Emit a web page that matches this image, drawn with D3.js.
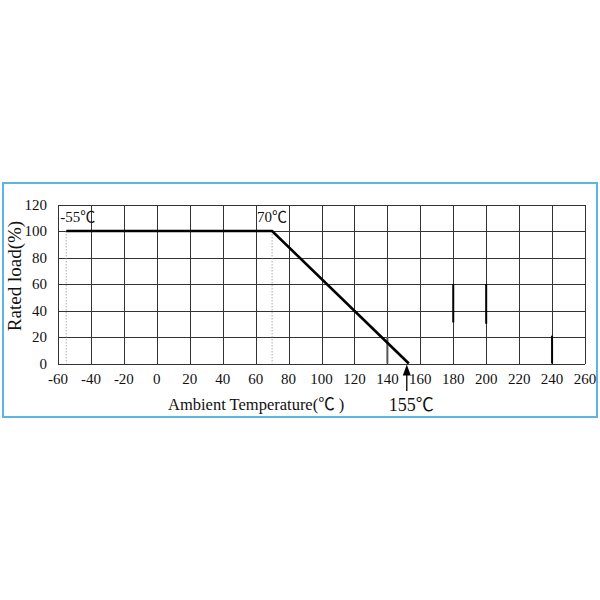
<!DOCTYPE html>
<html>
<head>
<meta charset="utf-8">
<script src="https://cdn.jsdelivr.net/npm/d3@7"></script>
<style>
  body { margin: 0; background: #fff; }
  svg text { font-family: "Liberation Serif", "Noto Sans CJK SC", serif; fill: #111; }
  .grid line { stroke: #333; stroke-width: 1; shape-rendering: crispEdges; }
</style>
</head>
<body>
<svg id="chart" width="600" height="600"></svg>
<script>
// derating curve: temperature (C) vs rated load (%)
var curveTemp = [-55, 70, 153]
var curveLoad = [100, 100, 0]

var xTicks = [-60, -40, -20, 0, 20, 40, 60, 80, 100, 120, 140, 160, 180, 200, 220, 240, 260]
var yTicks = [0, 20, 40, 60, 80, 100, 120]

// stray short strokes visible in the scan
var strokeTemp = [140, 180, 200, 240]
var strokeFrom = [0, 31, 30, 0]
var strokeTo   = [20, 60, 60, 21]

var noteTemps = [-55, 70]
var noteLabels = ["-55℃", "70℃"]

var svg = d3.select("#chart")

// light blue frame
svg.append("rect")
	.attr("x", 3).attr("y", 183)
	.attr("width", 594).attr("height", 234)
	.attr("fill", "none")
	.attr("stroke", "#5bb6e4")
	.attr("stroke-width", 2)

var x = d3.scaleLinear().domain([-60, 260]).range([58, 585])
var y = d3.scaleLinear().domain([0, 120]).range([363.5, 204.5])

var g = svg.append("g").attr("class", "grid")

g.selectAll(".vl").data(xTicks).enter().append("line")
	.attr("x1", d => Math.round(x(d)) + 0.5).attr("x2", d => Math.round(x(d)) + 0.5)
	.attr("y1", y(0)).attr("y2", y(120))

g.selectAll(".hl").data(yTicks).enter().append("line")
	.attr("y1", d => Math.round(y(d)) + 0.5).attr("y2", d => Math.round(y(d)) + 0.5)
	.attr("x1", x(-60)).attr("x2", x(260))

// tick labels
svg.selectAll(".xt").data(xTicks).enter().append("text")
	.attr("x", d => x(d))
	.attr("y", 384)
	.attr("text-anchor", "middle")
	.style("font-size", "15px")
	.text(d => d)

svg.selectAll(".yt").data(yTicks).enter().append("text")
	.attr("x", 47)
	.attr("y", d => y(d) + 5)
	.attr("text-anchor", "end")
	.style("font-size", "15px")
	.text(d => d)

// dotted guides at the corners of the curve
svg.selectAll(".guide").data(noteTemps).enter().append("line")
	.attr("x1", d => x(d)).attr("x2", d => x(d))
	.attr("y1", y(100)).attr("y2", y(0))
	.attr("stroke", "#999")
	.attr("stroke-width", 0.8)
	.attr("stroke-dasharray", "1.5,1.5")

svg.selectAll(".stroke").data(strokeTemp).enter().append("line")
	.attr("x1", d => x(d)).attr("x2", d => x(d))
	.attr("y1", (d, i) => y(strokeFrom[i])).attr("y2", (d, i) => y(strokeTo[i]))
	.attr("stroke", (d, i) => i == 0 ? "#555" : "#000")
	.attr("stroke-width", 2)

// the curve
var line = d3.line()
	.x(function(d, i) { return x(curveTemp[i]) })
	.y(function(d, i) { return y(curveLoad[i]) })

svg.append("path")
	.attr("d", line(curveTemp))
	.attr("fill", "none")
	.attr("stroke", "#000")
	.attr("stroke-width", 2.6)

svg.selectAll(".note").data(noteTemps).enter().append("text")
	.attr("x", (d, i) => i == 0 ? x(d) - 6 : x(d) - 15)
	.attr("y", 222)
	.style("font-size", "15px")
	.text((d, i) => noteLabels[i])

// arrow pointing at the end of the curve
var endX = x(curveTemp[2]) - 2
svg.append("line")
	.attr("x1", endX).attr("x2", endX)
	.attr("y1", 391).attr("y2", y(0) + 8)
	.attr("stroke", "#000").attr("stroke-width", 1.3)
svg.append("path")
	.attr("d", d3.line()([[endX - 4, y(0) + 12], [endX, y(0) + 1], [endX + 4, y(0) + 12]]) + "Z")
	.attr("fill", "#000")

svg.append("text")
	.attr("x", endX - 18)
	.attr("y", 411)
	.style("font-size", "18px")
	.text("155℃")

// axis titles
svg.append("text")
	.attr("x", 168)
	.attr("y", 410)
	.style("font-size", "16.5px")
	.text("Ambient Temperature(℃ )")

svg.append("text")
	.attr("transform", "translate(21," + 276 + ") rotate(-90)")
	.attr("text-anchor", "middle")
	.style("font-size", "19px")
	.text("Rated load(%)")
</script>
</body>
</html>
